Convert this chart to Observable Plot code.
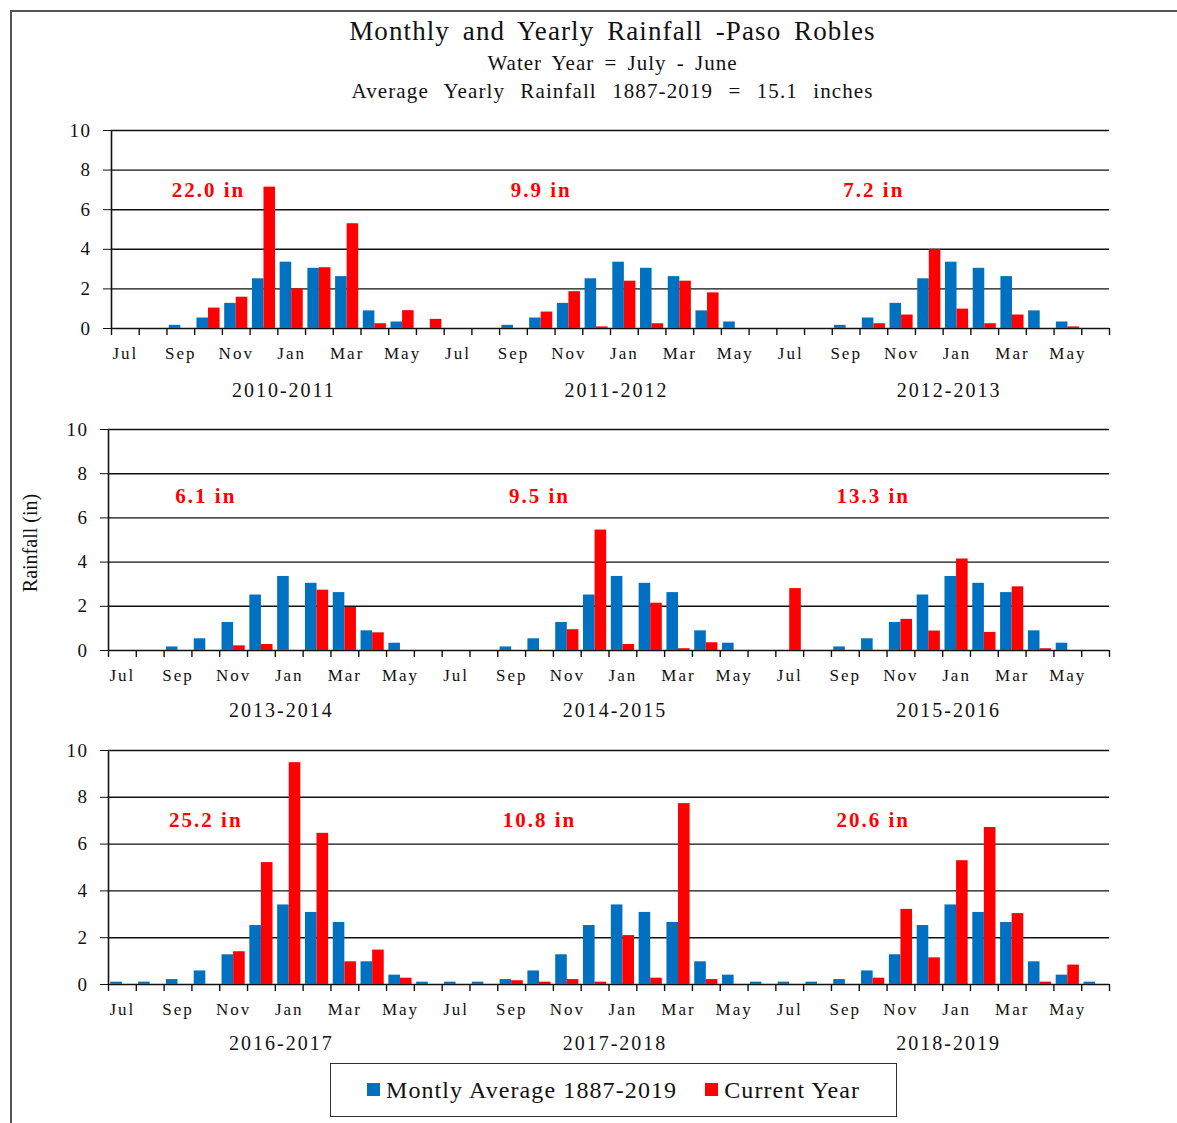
<!DOCTYPE html>
<html>
<head>
<meta charset="utf-8">
<script src="https://cdn.jsdelivr.net/npm/d3@7"></script>
<script src="https://cdn.jsdelivr.net/npm/@observablehq/plot@0.6"></script>
<style>
  html, body { margin: 0; padding: 0; background: #fff; }
  body { font-family: "Liberation Serif", "Times New Roman", serif; color: #111; }
  #wrap { position: relative; width: 1177px; height: 1123px; overflow: hidden; background: #fff; }
  .frame { position: absolute; left: 10px; top: 10px; width: 1200px; height: 1200px;
           border-left: 2px solid #555; border-top: 2px solid #555; box-sizing: border-box; }
  .ttl { position: absolute; left: 0; width: 1225px; text-align: center; white-space: nowrap; }
  #t1 { top: 16px; font-size: 27px; letter-spacing: 1.1px; word-spacing: 5px; }
  #t2 { top: 51px; font-size: 21px; letter-spacing: 1px; word-spacing: 4px; }
  #t3 { top: 79px; font-size: 21px; letter-spacing: 1.1px; word-spacing: 9px; }
  .ytitle { position: absolute; left: 30px; top: 543px; font-size: 20px; white-space: nowrap;
            transform: translate(-50%, -50%) rotate(-90deg); }
  .panel { position: absolute; left: 0; }
  .panel text { letter-spacing: 2px; }
  .panel g[aria-label="y-axis tick label"] text { font-size: 19px; letter-spacing: 1.5px; }
  .legend { position: absolute; left: 330px; top: 1063px; width: 567px; height: 54px;
            border: 1.5px solid #333; box-sizing: border-box; display: flex; align-items: center;
            justify-content: center; font-size: 24px; letter-spacing: 1.1px; }
  .legend .sw { display: inline-block; width: 13px; height: 13px; margin-right: 6px; vertical-align: middle; position: relative; top: -2px; }
  .legend .item { margin: 0 14px; }
</style>
</head>
<body>
<div id="wrap">
  <div class="frame"></div>
  <div class="ttl" id="t1">Monthly and Yearly Rainfall -Paso Robles</div>
  <div class="ttl" id="t2">Water Year = July - June</div>
  <div class="ttl" id="t3">Average Yearly Rainfall 1887-2019 = 15.1 inches</div>
  <div class="ytitle">Rainfall (in)</div>
  <div id="legend" class="legend"></div>
</div>
<script>
// ---------- data ----------
const months = ["Jul","Aug","Sep","Oct","Nov","Dec","Jan","Feb","Mar","Apr","May","Jun"];
const waterYears = ["2010-2011","2011-2012","2012-2013","2013-2014","2014-2015","2015-2016","2016-2017","2017-2018","2018-2019"];
const yearTotals = ["22.0 in","9.9 in","7.2 in","6.1 in","9.5 in","13.3 in","25.2 in","10.8 in","20.6 in"];
const seriesNames = ["Montly Average 1887-2019","Current Year"];
const seriesColors = ["#0070C0","#FF0000"];
// monthly average (as drawn in the top two rows, and in the bottom row)
const avgEarly = [0,0,0.16,0.53,1.27,2.51,3.35,3.04,2.62,0.89,0.33,0];
const avgLate  = [0.1,0.1,0.21,0.58,1.27,2.52,3.4,3.08,2.65,0.97,0.4,0.1];
// current-year monthly rainfall, Jul..Jun
const rain2010 = [0,0,0,1.03,1.58,7.14,2.0,3.07,5.29,0.24,0.9,0.46];
const rain2011 = [0,0,0,0.83,1.86,0.08,2.39,0.24,2.39,1.8,0,0];
const rain2012 = [0,0,0,0.24,0.68,3.98,0.98,0.24,0.68,0,0.08,0];
const rain2013 = [0,0,0,0,0.21,0.27,0,2.73,1.95,0.8,0,0];
const rain2014 = [0,0,0,0,0.94,5.45,0.27,2.14,0.08,0.35,0,0];
const rain2015 = [2.8,0,0,0,1.41,0.88,4.14,0.82,2.88,0.08,0,0];
const rain2016 = [0,0,0,0,1.4,5.21,9.48,6.46,0.97,1.47,0.27,0];
const rain2017 = [0,0,0.16,0.1,0.21,0.1,2.09,0.27,7.73,0.21,0,0];
const rain2018 = [0,0,0,0.27,3.21,1.14,5.29,6.71,3.03,0.1,0.83,0];
const yTicks = [0,2,4,6,8,10];

// ---------- build tables ----------
const rainByYear = [rain2010,rain2011,rain2012,rain2013,rain2014,rain2015,rain2016,rain2017,rain2018];
const bars = [];
const yearRows = [];
waterYears.forEach((wy, yi) => {
  const panel = Math.floor(yi / 3);
  const base = (yi % 3) * 12;
  const avg = panel < 2 ? avgEarly : avgLate;
  months.forEach((m, mi) => {
    bars.push({panel, slot: base + mi, series: 0, value: avg[mi]});
    bars.push({panel, slot: base + mi, series: 1, value: rainByYear[yi][mi]});
  });
  yearRows.push({panel, label: wy, total: yearTotals[yi], jan: base + 6, oct: base + 3});
});

// ---------- layout per row ----------
const W = 1177;
const rows = [
  {top: 120, plotH: 198, mb: 80, ml: 111, yearDy: 62},
  {top: 419, plotH: 221, mb: 75, ml: 108, yearDy: 60},
  {top: 740, plotH: 234, mb: 75, ml: 108, yearDy: 59}
];
const mr = 68;
const slots = d3.range(36);
const font = "Liberation Serif";

rows.forEach((r, p) => {
  const bw = (W - r.ml - mr) / 36;
  const gap = bw / 12;
  const pb = bars.filter(d => d.panel === p && d.value > 0);
  const yr = yearRows.filter(d => d.panel === p);
  const chart = Plot.plot({
    width: W,
    height: r.plotH + 10 + r.mb,
    marginTop: 10,
    marginBottom: r.mb,
    marginLeft: r.ml,
    marginRight: mr,
    className: "panel",
    style: {fontFamily: font, fontSize: "17px", background: "transparent", color: "#111", overflow: "visible"},
    x: {type: "band", domain: slots, padding: 0, round: false, tickSize: 0, tickPadding: 18,
        tickFormat: i => i % 2 === 0 ? months[i % 12] : "", label: null},
    y: {domain: [0, 10], ticks: yTicks, tickSize: 8, tickPadding: 12, label: null},
    marks: [
      Plot.ruleY(yTicks, {stroke: "#111", strokeWidth: 1.4}),
      Plot.barY(pb.filter(d => d.series === 0), {x: "slot", y: "value", fill: seriesColors[0], insetLeft: gap, insetRight: bw / 2}),
      Plot.barY(pb.filter(d => d.series === 1), {x: "slot", y: "value", fill: seriesColors[1], insetLeft: bw / 2, insetRight: gap}),
      // month boundary ticks below the baseline
      Plot.ruleX(slots, {x: d => d, y1: 0, y2: 0, insetBottom: -7, dx: -bw / 2, stroke: "#111", strokeWidth: 1.4}),
      Plot.ruleX([35], {x: d => d, y1: 0, y2: 0, insetBottom: -7, dx: bw / 2, stroke: "#111", strokeWidth: 1.4}),
      // vertical value axis line
      Plot.ruleX([0], {x: d => d, y1: 0, y2: 10, dx: -bw / 2, stroke: "#111", strokeWidth: 1.6}),
      Plot.text(yr, {x: "oct", y: () => 7, text: "total", fill: seriesColors[1], fontWeight: "bold", fontSize: 21, fontFamily: font}),
      Plot.text(yr, {x: "jan", y: () => 0, dx: -bw / 2 + 6, dy: r.yearDy, text: "label", fill: "#111", fontSize: 20, fontFamily: font})
    ]
  });
  chart.style.position = "absolute";
  chart.style.top = r.top + "px";
  chart.style.left = "0px";
  document.getElementById("wrap").appendChild(chart);
});

// ---------- legend ----------
const leg = document.getElementById("legend");
seriesNames.forEach((n, i) => {
  const s = document.createElement("span");
  s.className = "item";
  s.innerHTML = `<span class="sw" style="background:${seriesColors[i]}"></span>${n}`;
  leg.appendChild(s);
});
</script>
</body>
</html>
